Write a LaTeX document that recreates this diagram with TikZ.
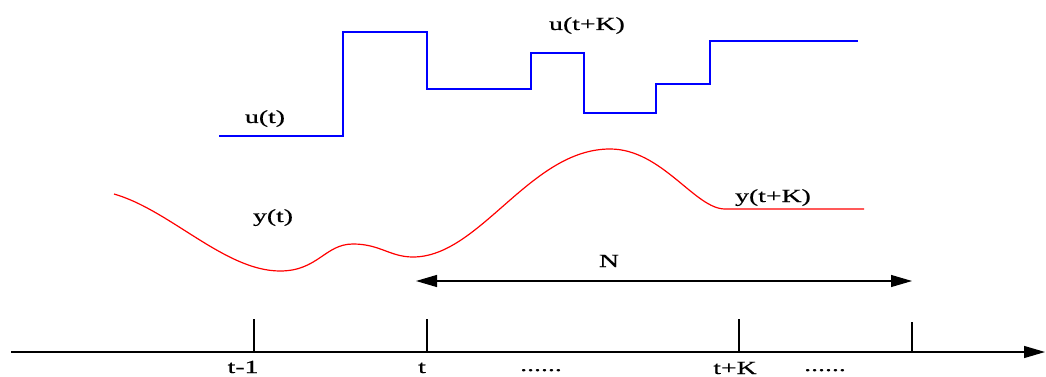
\documentclass[tikz,border=0pt]{standalone}
\usepackage{fontspec}
\setmainfont[FakeStretch=1.5,FakeBold=0.6]{Liberation Serif}
\usetikzlibrary{arrows.meta}
\begin{document}
\begin{tikzpicture}[x=1pt,y=-1pt,
  lbl/.style={anchor=base,inner sep=0pt,font=\fontsize{18.5}{20}\selectfont},
  axisline/.style={line width=1.3pt,black},
  tick/.style={line width=1.3pt,black},
  uline/.style={line width=1.4pt,blue},
  yline/.style={line width=1.2pt,red},
  tip/.style={-{Triangle[length=21pt,width=12pt]}}]
\useasboundingbox (0,0) rectangle (1046,377);
% axis
\coordinate (a0) at (11,352);
\coordinate (a1) at (1045,352);
\draw[axisline,tip] (a0) -- (a1);
\coordinate (k1) at (254,352); \coordinate (k1t) at (254,319);
\coordinate (k2) at (427,352); \coordinate (k2t) at (427,319);
\coordinate (k3) at (739,352); \coordinate (k3t) at (739,319);
\coordinate (k4) at (912,352); \coordinate (k4t) at (912,322);
\draw[tick] (k1) -- (k1t);
\draw[tick] (k2) -- (k2t);
\draw[tick] (k3) -- (k3t);
\draw[tick] (k4) -- (k4t);
\node[lbl] (lt1) at (243,373) {t-1};
\node[lbl] (lt) at (422,373) {t};
\node[lbl] (ld1) at (541,371) {......};
\node[lbl] (ltk) at (735,374) {t+K};
\node[lbl] (ld2) at (825,371) {......};
% u
\draw[uline] (219,136) -- (343,136) -- (343,32) -- (427,32) -- (427,89)
  -- (531,89) -- (531,53) -- (584,53) -- (584,113) -- (656,113)
  -- (656,84) -- (710,84) -- (710,41) -- (858,41);
\node[lbl] (lu) at (265,123) {u(t)};
\node[lbl] (luk) at (587,30) {u(t+K)};
% y
\draw[yline] (114,194) .. controls (170,210) and (225,271) .. (280,271)
  .. controls (318,271) and (325,244) .. (353,244)
  .. controls (380,244) and (390,257) .. (413,257)
  .. controls (480,257) and (530,149) .. (610,149)
  .. controls (662,149) and (695,209) .. (725,209) -- (864,209);
\node[lbl] (ly) at (273,222) {y(t)};
\node[lbl] (lyk) at (773,202) {y(t+K)};
% N
\coordinate (n0) at (416,281);
\coordinate (n1) at (912,281);
\draw[line width=1.1pt,{Triangle[length=21pt,width=12pt]}-{Triangle[length=21pt,width=12pt]}] (n0) -- (n1);
\node[lbl] (lN) at (609,267) {N};
\end{tikzpicture}
\end{document}
